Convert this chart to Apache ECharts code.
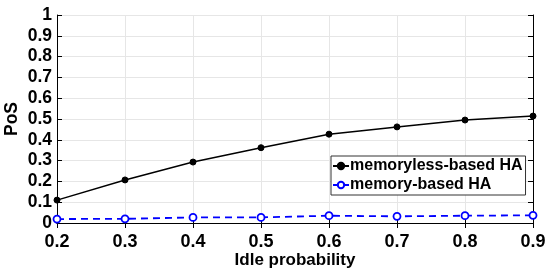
<!DOCTYPE html>
<html>
<head>
<meta charset="utf-8">
<script src="https://cdn.jsdelivr.net/npm/echarts@6/dist/echarts.min.js"></script>
<style>
  html, body { margin: 0; padding: 0; background: #fff; }
  #chart { width: 547px; height: 273px; }
</style>
</head>
<body>
<div id="chart"></div>
<script>
const idleProb = [0.2, 0.3, 0.4, 0.5, 0.6, 0.7, 0.8, 0.9];
const memorylessPoS = [0.11, 0.207, 0.293, 0.362, 0.427, 0.462, 0.495, 0.514];
const memoryPoS = [0.019, 0.02, 0.027, 0.027, 0.035, 0.032, 0.035, 0.037];
const seriesNames = ["memoryless-based HA", "memory-based HA"];

const font = "Liberation Sans";
const chart = echarts.init(document.getElementById("chart"), null, { renderer: "canvas" });

const pairs = (ys) => idleProb.map((x, i) => [x, ys[i]]);

// box axes: bottom/left carry labels, top/right only ticks
const xBase = {
  type: "value", min: 0.2, max: 0.9, interval: 0.1,
  axisLine: { show: true, lineStyle: { color: "#000", width: 1 } },
  axisTick: { show: true, inside: true, length: 5, lineStyle: { color: "#000" } },
};
const yBase = {
  type: "value", min: 0, max: 1, interval: 0.1,
  axisLine: { show: true, lineStyle: { color: "#000", width: 1 } },
  axisTick: { show: true, inside: true, length: 5, lineStyle: { color: "#000" } },
};

chart.setOption({
  animation: false,
  backgroundColor: "#fff",
  grid: { left: 57, right: 14, top: 15, bottom: 50, containLabel: false, outerBoundsMode: "none" },
  legend: {
    orient: "vertical",
    left: 331, top: 156,
    padding: [2, 3, 2, 1],
    itemGap: 3,
    itemWidth: 16, itemHeight: 8,
    backgroundColor: "#fff",
    borderColor: "#333", borderWidth: 1, borderRadius: 0,
    textStyle: { fontFamily: font, fontWeight: "bold", fontSize: 16, color: "#000", padding: [0, 0, 0, -4] },
    data: seriesNames,
  },
  xAxis: [
    Object.assign({}, xBase, {
      position: "bottom",
      name: "Idle probability", nameLocation: "middle", nameGap: 29, nameMoveOverlap: false,
      nameTextStyle: { fontFamily: font, fontWeight: "bold", fontSize: 17, color: "#000" },
      axisLabel: {
        fontFamily: font, fontWeight: "bold", fontSize: 18, color: "#000", margin: 10,
        formatter: (v) => v.toFixed(1),
      },
      splitLine: { show: true, lineStyle: { color: "#e6e6e6", width: 1 } },
    }),
    Object.assign({}, xBase, {
      position: "top",
      axisLabel: { show: false },
      splitLine: { show: false },
    }),
  ],
  yAxis: [
    Object.assign({}, yBase, {
      position: "left",
      name: "PoS", nameLocation: "middle", nameGap: 36, nameMoveOverlap: false,
      nameTextStyle: { fontFamily: font, fontWeight: "bold", fontSize: 17.5, color: "#000" },
      axisLabel: {
        fontFamily: font, fontWeight: "bold", fontSize: 17.5, color: "#000", margin: 5,
        formatter: (v) => (v === 0 || v === 1 ? String(v) : String(Math.round(v * 10) / 10)),
      },
      splitLine: { show: true, lineStyle: { color: "#e6e6e6", width: 1 } },
    }),
    Object.assign({}, yBase, {
      position: "right",
      axisLabel: { show: false },
      splitLine: { show: false },
    }),
  ],
  series: [
    {
      name: seriesNames[0],
      type: "line",
      data: pairs(memorylessPoS),
      symbol: "circle", symbolSize: 6,
      lineStyle: { color: "#000", width: 1.5 },
      itemStyle: { color: "#000", borderColor: "#000", borderWidth: 1 },
      z: 3,
    },
    {
      name: seriesNames[1],
      type: "line",
      data: pairs(memoryPoS),
      symbol: "circle", symbolSize: 7,
      showAllSymbol: true,
      lineStyle: { color: "#0000ff", width: 1.8, type: [7, 5] },
      itemStyle: { color: "#fff", borderColor: "#0000ff", borderWidth: 1.8 },
      z: 3,
    },
  ],
});

window.addEventListener("resize", () => chart.resize());
</script>
</body>
</html>
